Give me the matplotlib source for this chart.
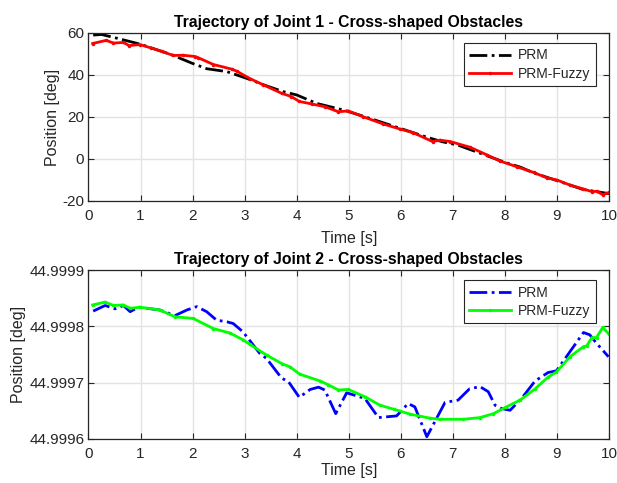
import matplotlib
matplotlib.use("Agg")
import matplotlib.pyplot as plt
from matplotlib.ticker import FormatStrFormatter

plt.rcParams['font.family'] = ['Liberation Sans', 'DejaVu Sans']
plt.rcParams['axes.unicode_minus'] = False

# ---- Joint 1 data ----
prm1_t = [0.09, 0.25, 0.5, 0.99, 1.57, 2.0, 2.27, 2.66, 3.04, 3.4, 3.74, 4.0, 4.38,
          4.9, 5.3, 6.0, 6.5, 6.8, 7.1, 7.52, 8.0, 8.3, 8.55, 9.0, 9.5, 10.0]
prm1_v = [59.0, 59.3, 57.8, 54.7, 49.9, 45.5, 43.0, 41.6, 38.4, 35.0, 32.1, 30.5, 26.5,
          23.3, 20.2, 14.5, 10.4, 8.2, 6.6, 2.8, -1.6, -3.9, -6.6, -10.3, -14.5, -16.5]

fuzzy1_t = [0.08, 0.34, 0.48, 0.67, 0.78, 0.99, 1.21, 1.41, 1.63, 1.82, 2.05, 2.11, 2.4,
            2.75, 2.85, 3.1, 3.36, 3.71, 3.9, 4.05, 4.29, 4.54, 4.8, 4.99, 5.28, 5.66,
            5.98, 6.24, 6.61, 6.75, 6.95, 7.33, 7.65, 7.9, 8.23, 8.55, 8.8, 9.0, 9.25,
            9.51, 9.67, 9.77, 9.88, 10.0]
fuzzy1_v = [55.0, 56.5, 55.2, 55.5, 54.0, 54.5, 52.8, 51.2, 49.3, 49.4, 48.8, 48.2, 45.0,
            42.8, 41.8, 38.3, 35.3, 31.3, 29.7, 27.4, 26.2, 24.9, 22.5, 22.9, 20.1, 16.7,
            14.3, 12.5, 8.3, 9.0, 8.3, 5.6, 2.0, -0.9, -3.7, -6.4, -8.9, -10.0, -12.4,
            -14.3, -15.5, -15.4, -17.0, -15.9]

# ---- Joint 2 data ----
prm2_t = [0.09, 0.32, 0.51, 0.67, 0.8, 0.96, 1.37, 1.66, 1.89, 2.08, 2.27, 2.46, 2.66,
          2.78, 2.97, 3.29, 3.42, 3.71, 3.84, 4.05, 4.26, 4.42, 4.54, 4.75, 4.96, 5.31,
          5.57, 5.92, 6.14, 6.27, 6.5, 6.85, 7.1, 7.32, 7.52, 7.68, 7.81, 7.94, 8.1,
          8.32, 8.58, 8.83, 8.99, 9.25, 9.51, 9.63, 9.76, 9.99]
prm2_v = [44.999827, 44.999837, 44.999831, 44.999837, 44.999826, 44.999834, 44.999829,
          44.999819, 44.999829, 44.999835, 44.999826, 44.999811, 44.999808, 44.999805,
          44.999790, 44.999752, 44.999743, 44.999708, 44.999702, 44.999674, 44.999688,
          44.999692, 44.999687, 44.999645, 44.999682, 44.999672, 44.999638, 44.999641,
          44.999663, 44.999657, 44.999604, 44.999665, 44.999669, 44.999689, 44.999693,
          44.999684, 44.999660, 44.999654, 44.999651, 44.999672, 44.999703, 44.999718,
          44.999721, 44.999755, 44.999789, 44.999785, 44.999770, 44.999746]

fuzzy2_t = [0.08, 0.32, 0.48, 0.67, 0.8, 0.99, 1.37, 1.66, 2.01, 2.4, 2.72, 2.97, 3.1,
            3.42, 3.71, 3.87, 4.06, 4.45, 4.61, 4.8, 4.99, 5.31, 5.6, 5.86, 6.18, 6.56,
            6.75, 7.2, 7.52, 7.78, 8.03, 8.29, 8.58, 8.83, 8.99, 9.25, 9.51, 9.57, 9.67,
            9.76, 9.88, 10.0]
fuzzy2_v = [44.999838, 44.999843, 44.999837, 44.999838, 44.999832, 44.999834, 44.999829,
            44.999817, 44.999814, 44.999796, 44.999788, 44.999776, 44.999768, 44.999749,
            44.999734, 44.999728, 44.999715, 44.999703, 44.999696, 44.999687, 44.999688,
            44.999675, 44.999660, 44.999653, 44.999644, 44.999637, 44.999635, 44.999635,
            44.999638, 44.999645, 44.999657, 44.999669, 44.999689, 44.999710, 44.999719,
            44.999746, 44.999764, 44.999765, 44.999780, 44.999780, 44.999798, 44.999786]

labels = ["PRM", "PRM-Fuzzy"]
titles = ["Trajectory of Joint 1 - Cross-shaped Obstacles",
          "Trajectory of Joint 2 - Cross-shaped Obstacles"]
xticks = list(range(0, 11))
yticks1 = [-20, 0, 20, 40, 60]
yticks2 = [44.9996, 44.9997, 44.9998, 44.9999]

fig = plt.figure(figsize=(6.17, 4.83), dpi=100)
W, H = 617, 483
ax1 = fig.add_axes([88.5 / W, 1 - 201 / H, (609 - 88.5) / W, (201 - 33) / H])
ax2 = fig.add_axes([88.5 / W, 1 - 439 / H, (609 - 88.5) / W, (439 - 270) / H])

tc = '#262626'

ax1.plot(prm1_t, prm1_v, linestyle='-.', color='black', lw=2, label=labels[0])
ax1.plot(fuzzy1_t, fuzzy1_v, linestyle='-', color='red', lw=2, marker='.', ms=3,
         label=labels[1])
ax2.plot(prm2_t, prm2_v, linestyle='-.', color='blue', lw=2, label=labels[0])
ax2.plot(fuzzy2_t, fuzzy2_v, linestyle='-', color='#00ff00', lw=2, marker='.', ms=3,
         label=labels[1])

for ax, title, yt, lp in [(ax1, titles[0], yticks1, 6), (ax2, titles[1], yticks2, 1.5)]:
    ax.set_xlim(0, 10)
    ax.set_xticks(xticks)
    ax.set_yticks(yt)
    ax.set_ylim(yt[0], yt[-1])
    ax.grid(True, color='#e3e3e3', lw=1)
    ax.set_axisbelow(True)
    ax.tick_params(direction='in', top=True, right=True, labelsize=11,
                   colors=tc, length=4, width=0.8, pad=3)
    ax.tick_params(axis='x', pad=5.5)
    for s in ax.spines.values():
        s.set_color(tc)
        s.set_linewidth(0.9)
    ax.set_title(title, fontsize=11.3, fontweight='bold', color='black', pad=4)
    ax.set_xlabel("Time [s]", fontsize=11.5, color=tc, labelpad=lp)
    ax.set_ylabel("Position [deg]", fontsize=11.5, color=tc, labelpad=2)
    leg = ax.legend(loc='upper right', fontsize=10, frameon=True, fancybox=False,
                    edgecolor=tc, framealpha=1, handlelength=3.0, borderpad=0.4,
                    labelspacing=0.3, handletextpad=0.5, borderaxespad=0,
                    bbox_to_anchor=(0.9745, 0.941))
    leg.get_frame().set_linewidth(0.8)
    for t in leg.get_texts():
        t.set_color(tc)

ax2.yaxis.set_major_formatter(FormatStrFormatter('%.4f'))

fig.savefig("out.png", dpi=100)
